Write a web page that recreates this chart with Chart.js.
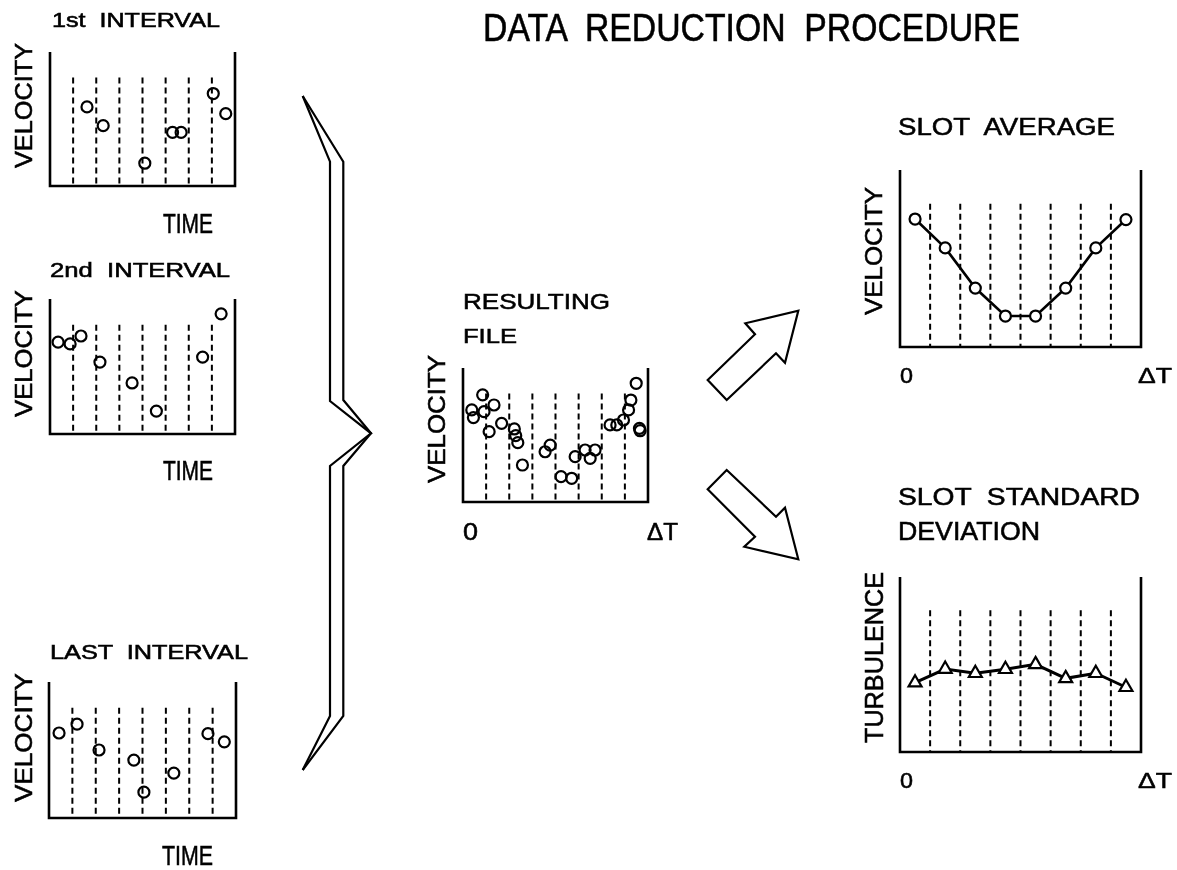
<!DOCTYPE html>
<html>
<head>
<meta charset="utf-8">
<script src="https://cdn.jsdelivr.net/npm/chart.js@4/dist/chart.umd.min.js"></script>
<style>
  html, body { margin: 0; padding: 0; background: #fff; overflow: hidden; }
  body { width: 1177px; height: 870px; position: relative; }
  canvas { position: absolute; }
  svg { position: absolute; left: 0; top: 0; pointer-events: none; }
  svg text { font-family: "Liberation Sans", Arial, sans-serif; fill: #000; stroke: #000; stroke-width: 0.55; white-space: pre; }
</style>
</head>
<body>
<svg id="ink" width="1177" height="870"></svg>
<script>
// slot boundaries (time axis split into 8 slots) and height of the dashed slot lines
const slotEdges = [1, 2, 3, 4, 5, 6, 7];
const slotTop = 8.1;
const slotCenters = [0.5, 1.5, 2.5, 3.5, 4.5, 5.5, 6.5, 7.5];

// raw samples, one array pair per interval
const firstX = [1.6, 2.3, 4.1, 5.3, 5.67, 7.06, 7.6];
const firstY = [5.9, 4.5, 1.7, 4.0, 4.0, 6.9, 5.4];

const secondX = [0.35, 0.87, 1.34, 2.16, 3.55, 4.6, 6.6, 7.4];
const secondY = [6.8, 6.67, 7.26, 5.33, 3.78, 1.7, 5.7, 8.9];

const lastX = [0.43, 1.2, 2.14, 3.63, 4.06, 5.34, 6.8, 7.5];
const lastY = [6.25, 6.9, 5.0, 4.26, 1.9, 3.3, 6.2, 5.6];

// all intervals folded into one period
const resultX = [0.38, 0.45, 0.85, 0.91, 1.34, 1.13, 1.67, 2.22, 2.28, 2.37, 2.57, 3.55, 3.77,
  4.24, 4.7, 4.85, 5.28, 5.5, 5.71, 6.36, 6.65, 6.94, 7.16, 7.26, 7.49, 7.63, 7.66];
const resultY = [6.87, 6.3, 8.0, 6.74, 7.24, 5.25, 5.87, 5.45, 4.95, 4.43, 2.76, 3.75, 4.25,
  1.89, 1.77, 3.38, 3.88, 3.26, 3.88, 5.75, 5.75, 6.12, 6.87, 7.61, 8.86, 5.5, 5.32];

// per-slot statistics
const slotAverage = [7.23, 5.6, 3.33, 1.75, 1.75, 3.33, 5.6, 7.2];
const slotStdDev = [3.96, 4.74, 4.5, 4.73, 5.01, 4.21, 4.5, 3.7];

const pts = (xs, ys) => xs.map((x, i) => ({ x: x, y: ys[i] }));

function panel(box, extra) {
  const pad = 12;
  const w = box.right - box.left, h = box.bottom - box.top;
  const c = document.createElement("canvas");
  c.width = w + 2 * pad;
  c.height = h + 2 * pad;
  c.style.left = (box.left - pad) + "px";
  c.style.top = (box.top - pad) + "px";
  document.body.insertBefore(c, document.getElementById("ink"));

  const datasets = [{
    // axes box: left, bottom, right
    data: [{ x: 0, y: 10 }, { x: 0, y: 0 }, { x: 8, y: 0 }, { x: 8, y: 10 }],
    showLine: true, borderColor: "#000", borderWidth: 2.6, pointRadius: 0,
    borderJoinStyle: "miter", clip: false, order: 2
  }];
  slotEdges.forEach(e => datasets.push({
    data: [{ x: e, y: slotTop }, { x: e, y: 0 }],
    showLine: true, borderColor: "#000", borderWidth: 2, borderDash: [6, 4],
    pointRadius: 0, clip: false, order: 3
  }));
  extra.forEach(d => datasets.push(Object.assign({ clip: false, order: 0 }, d)));

  new Chart(c, {
    type: "scatter",
    data: { datasets },
    options: {
      responsive: false, animation: false, devicePixelRatio: 1, events: [],
      layout: { padding: pad },
      plugins: { legend: { display: false }, tooltip: { enabled: false } },
      scales: {
        x: { type: "linear", min: 0, max: 8, display: false },
        y: { min: 0, max: 10, display: false }
      }
    }
  });
}

const circles = data => ({
  data, pointStyle: "circle", pointRadius: 5.5, borderWidth: 2.2,
  borderColor: "#000", backgroundColor: "rgba(0,0,0,0)", showLine: false
});

panel({ left: 50, top: 52, right: 235, bottom: 186 }, [circles(pts(firstX, firstY))]);
panel({ left: 50, top: 299, right: 235, bottom: 434 }, [circles(pts(secondX, secondY))]);
panel({ left: 49, top: 682, right: 236, bottom: 818 }, [circles(pts(lastX, lastY))]);
panel({ left: 463, top: 368, right: 648, bottom: 502 }, [circles(pts(resultX, resultY))]);
panel({ left: 900, top: 170, right: 1141, bottom: 347 }, [{
  data: pts(slotCenters, slotAverage), showLine: true, borderColor: "#000", borderWidth: 2.6,
  pointStyle: "circle", pointRadius: 5.5, pointBorderWidth: 2.2, pointBorderColor: "#000",
  pointBackgroundColor: "#fff"
}]);
panel({ left: 900, top: 577, right: 1141, bottom: 752 }, [{
  data: pts(slotCenters, slotStdDev), showLine: true, borderColor: "#000", borderWidth: 3,
  pointStyle: "triangle", pointRadius: 7.5, pointBorderWidth: 2.2, pointBorderColor: "#000",
  pointBackgroundColor: "#fff"
}]);

// text, brace and arrows
const svg = document.getElementById("ink");
const NS = "http://www.w3.org/2000/svg";
function el(tag, attrs) {
  const n = document.createElementNS(NS, tag);
  for (const k in attrs) n.setAttribute(k, attrs[k]);
  svg.appendChild(n);
  return n;
}
function htext(str, x0, y0, x1, y1) {
  const t = el("text", {
    x: x0, y: y1, "font-size": ((y1 - y0) / 0.716).toFixed(2),
    textLength: x1 - x0, lengthAdjust: "spacingAndGlyphs"
  });
  t.textContent = str;
}
function vtext(str, x0, y0, x1, y1) {
  const t = el("text", {
    x: 0, y: 0, transform: `translate(${x1},${y1}) rotate(-90)`,
    "font-size": ((x1 - x0) / 0.716).toFixed(2),
    textLength: y1 - y0, lengthAdjust: "spacingAndGlyphs"
  });
  t.textContent = str;
}

htext("DATA  REDUCTION  PROCEDURE", 483, 13, 1020, 41);

htext("1st  INTERVAL", 52, 13, 220, 27);
vtext("VELOCITY", 15, 43, 32, 168);
htext("TIME", 163, 213, 213, 233);

htext("2nd  INTERVAL", 50, 263, 230, 277);
vtext("VELOCITY", 15, 290, 32, 417);
htext("TIME", 163, 460, 213, 480);

htext("LAST  INTERVAL", 50, 645, 248, 659);
vtext("VELOCITY", 15, 673, 32, 802);
htext("TIME", 162, 845, 213, 865);

htext("RESULTING", 463, 293, 610, 309);
htext("FILE", 463, 328, 517, 343);
vtext("VELOCITY", 428, 355, 445, 483);
htext("0", 463, 523, 478, 540);
htext("\u0394T", 647, 523, 678, 540);

htext("SLOT  AVERAGE", 898, 118, 1115, 135);
vtext("VELOCITY", 865, 187, 882, 315);
htext("0", 900, 367, 913, 383);
htext("\u0394T", 1138, 367, 1172, 383);

htext("SLOT  STANDARD", 898, 488, 1140, 505);
htext("DEVIATION", 898, 522, 1040, 540);
vtext("TURBULENCE", 865, 572, 883, 743);
htext("0", 900, 772, 913, 788);
htext("\u0394T", 1138, 772, 1172, 788);

// brace
const line = { fill: "none", stroke: "#000", "stroke-width": 2.2, "stroke-linejoin": "miter" };
el("polyline", Object.assign({ points: "302.7,96 330,161.7 330,401 371,433.3 330,466 330,716 302.7,770" }, line));
el("polyline", Object.assign({ points: "302.7,96 343.3,161.7 343.3,400 371,433.3 343.3,466 343.3,716 302.7,770" }, line));

// arrows
el("polygon", Object.assign({ points: "707.7,380 755,334.3 745.3,323.3 798.3,310.7 785,362.7 776,353.3 726.7,400" }, line));
el("polygon", Object.assign({ points: "726.7,470 776,516.7 785,507.7 798.3,559.3 744.3,546.7 755,536.7 707.7,489.3" }, line));
</script>
</body>
</html>
